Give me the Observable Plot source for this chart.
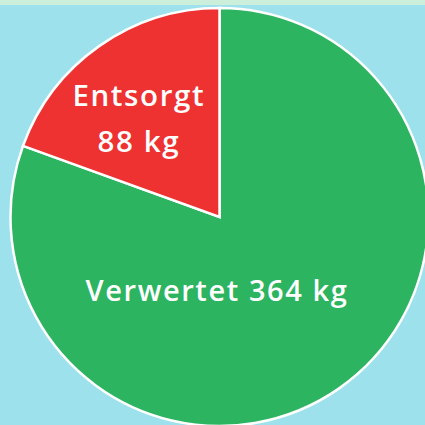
<!DOCTYPE html>
<html><head><meta charset="utf-8">
<script src="https://cdn.jsdelivr.net/npm/d3@7"></script>
<script src="https://cdn.jsdelivr.net/npm/@observablehq/plot@0.6"></script>
<style>
html,body{margin:0;padding:0;background:#9ce1eb;}
#wrap{position:relative;width:425px;height:425px;overflow:hidden;}
#strip{position:absolute;left:0;top:0;width:425px;height:5px;background:#ccefdc;}
svg text{letter-spacing:1.6px;}
</style></head>
<body><div id="wrap"><div id="chart"></div><div id="strip"></div></div>
<script>
const categories = ["Verwertet", "Entsorgt"];
const values = [364, 88];
const labels = ["Verwertet 364 kg", "Entsorgt\n88 kg"];
const colors = ["#2cb461", "#ee3131"];

const W = 425, H = 425;
const cx = 219.5, cy = 217, R = 209;
const pie = d3.pie().sort(null)(values);
const data = pie.map((p, i) => ({cat: categories[i], value: values[i], label: labels[i], p}));

function pieMark(index, scales) {
  const g = d3.create("svg:g");
  const arc = d3.arc().innerRadius(0).outerRadius(R);
  g.attr("transform", `translate(${scales.x(cx)},${scales.y(cy)})`);
  g.selectAll("path").data(data).join("path")
    .attr("d", d => arc(d.p))
    .attr("fill", d => scales.color(d.cat))
    .attr("stroke", "white").attr("stroke-width", 2.5).attr("stroke-linejoin", "miter");
  return g.node();
}

// label positions derived from arc geometry
const redMid = (pie[1].startAngle + pie[1].endAngle) / 2;
const redLR = 124;
const labelPos = [
  {x: cx - 3, y: cy + 69, size: 29},
  {x: cx + Math.sin(redMid) * redLR - 10, y: cy - Math.cos(redMid) * redLR - 1.5, size: 29.5}
];

const chart = Plot.plot({
  width: W, height: H, margin: 0,
  x: {domain: [0, W], range: [0, W], axis: null},
  y: {domain: [0, H], range: [0, H], axis: null},
  color: {domain: categories, range: colors},
  style: {background: "transparent"},
  marks: [
    pieMark,
    Plot.text([data[0]], {x: () => labelPos[0].x, y: () => labelPos[0].y, text: "label",
      fill: "white", fontSize: labelPos[0].size, fontWeight: 600, fontFamily: "Open Sans", lineHeight: 1.55}),
    Plot.text([data[1]], {x: () => labelPos[1].x, y: () => labelPos[1].y, text: "label",
      fill: "white", fontSize: labelPos[1].size, fontWeight: 600, fontFamily: "Open Sans", lineHeight: 1.55})
  ]
});
document.getElementById("chart").appendChild(chart);
</script>
</body></html>
